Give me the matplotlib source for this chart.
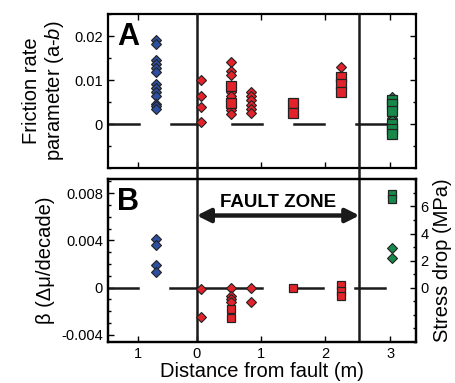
import matplotlib
matplotlib.use("Agg")
import matplotlib.pyplot as plt
from matplotlib.ticker import MultipleLocator, FixedLocator

plt.rcParams["font.family"] = ["Liberation Sans", "DejaVu Sans"]
plt.rcParams["mathtext.fontset"] = "custom"
plt.rcParams["mathtext.it"] = "Liberation Sans:italic"
plt.rcParams["axes.unicode_minus"] = False

# x positions of sample groups (m, left group is on the other side of the fault)
x_blue = -0.64
x_red = [0.06, 0.53, 0.85, 1.51, 2.25]
x_green = 3.04
fault_x = [0.0, 2.54]

# panel A: friction rate parameter (a-b)
ab_blue = [0.0191, 0.0182, 0.0145, 0.0137, 0.0128, 0.0119, 0.0092, 0.0083,
           0.0074, 0.0065, 0.0046, 0.0041, 0.0035]
ab_red_d = [[0.0100, 0.0065, 0.0038, 0.0005],
            [0.0141, 0.0121, 0.0112, 0.0073, 0.0063, 0.0033, 0.0022],
            [0.0074, 0.0065, 0.0056, 0.0044, 0.0035, 0.0026],
            [],
            [0.0129]]
ab_red_s = [[], [0.0086, 0.0048], [], [0.0048, 0.0026], [0.0107, 0.0091, 0.0073]]
ab_green_d = [0.0062, 0.0015, 0.0010]
ab_green_s = [0.0056, 0.0045, 0.0030, 0.0000, -0.0010, -0.0022]

# panel B: beta (delta mu / decade) and stress drop (MPa)
beta_blue = [0.0041, 0.0036, 0.0019, 0.0013]
beta_red_d = [[-0.0001, -0.0025],
              [0.0, -0.0007, -0.0010, -0.0012],
              [0.0, -0.0012],
              [],
              []]
beta_red_s = [[], [-0.0018, -0.0026], [], [0.0], [0.00025, -0.00025, -0.0007]]
stress_green_s = [6.9, 6.55]
stress_green_d = [2.9, 2.2]

zero_top = [(-1.4, -0.90), (-0.40, 0.0), (0.55, 1.02), (1.52, 1.99), (2.49, 2.95)]
zero_bot = [(-1.4, -0.92), (-0.42, 0.0), (0.0, 1.02), (1.51, 1.97), (2.47, 2.94)]

xticks = [-0.92, 0, 1, 2, 3.02]
xlabels = ["1", "0", "1", "2", "3"]

blue = "#2d4f9f"
red = "#e3232b"
green = "#17894a"
edge = "#222222"

fig = plt.figure(figsize=(4.56, 3.83), dpi=100)
axA = fig.add_axes([0.236, 0.561, 0.676, 0.402])
axB = fig.add_axes([0.236, 0.107, 0.676, 0.426])

xlim = (-1.39, 3.42)


def diamonds(ax, x, ys, color, ms=5.5):
    if len(ys):
        ax.plot([x] * len(ys), ys, "D", ms=ms, mfc=color, mec=edge, mew=0.8,
                zorder=4, clip_on=False)


def squares(ax, x, ys, color, ms=7):
    if len(ys):
        ax.plot([x] * len(ys), ys, "s", ms=ms, mfc=color, mec=edge, mew=0.9,
                zorder=4, clip_on=False)


for ax in (axA, axB):
    ax.set_xlim(*xlim)
    for s in ax.spines.values():
        s.set_linewidth(1.6)
    ax.set_xticks(xticks)
    ax.tick_params(direction="in", length=4, width=1, labelsize=10.5)
    ax.tick_params(which="minor", direction="in", length=2.5, width=1)

# panel A
axA.set_ylim(-0.01, 0.025)
axA.set_yticks([0, 0.01, 0.02])
axA.set_yticklabels(["0", "0.01", "0.02"])
axA.yaxis.set_minor_locator(MultipleLocator(0.005))
axA.tick_params(which="both", top=True, right=True, labelbottom=False)
for a, b in zero_top:
    axA.plot([a, b], [0, 0], color="#1a1a1a", lw=1.8, zorder=2)
diamonds(axA, x_blue, ab_blue, blue)
for x, d, s in zip(x_red, ab_red_d, ab_red_s):
    diamonds(axA, x, d, red)
    squares(axA, x, s, red)
diamonds(axA, x_green, ab_green_d, green)
squares(axA, x_green, ab_green_s, green)
for fx in fault_x:
    axA.axvline(fx, ymin=-0.08, ymax=1, color="#1a1a1a", lw=1.8, clip_on=False,
                zorder=3)
axA.set_ylabel("Friction rate\nparameter (a-$\\mathit{b}$)", fontsize=14.5,
               labelpad=6, linespacing=1.1)
axA.text(0.03, 0.95, "A", transform=axA.transAxes, fontsize=22,
         fontweight="bold", va="top", ha="left")

# panel B
axB.set_ylim(-0.0046, 0.0092)
axB.set_yticks([-0.004, 0, 0.004, 0.008])
axB.set_yticklabels(["-0.004", "0", "0.004", "0.008"])
axB.yaxis.set_minor_locator(MultipleLocator(0.001))
axB.tick_params(which="both", left=True, right=False)
axB.set_xticklabels(xlabels)
for a, b in zero_bot:
    axB.plot([a, b], [0, 0], color="#1a1a1a", lw=1.8, zorder=2)
diamonds(axB, x_blue, beta_blue, blue)
for x, d, s in zip(x_red, beta_red_d, beta_red_s):
    diamonds(axB, x, d, red)
    squares(axB, x, s, red, ms=6)
for fx in fault_x:
    axB.axvline(fx, color="#1a1a1a", lw=1.8, zorder=3)
axB.set_ylabel("\u03b2 (\u0394\u03bc/decade)", fontsize=14.5, labelpad=4)
axB.set_xlabel("Distance from fault (m)", fontsize=14.5, labelpad=1)
axB.text(0.03, 0.95, "B", transform=axB.transAxes, fontsize=22,
         fontweight="bold", va="top", ha="left")
axB.annotate("", xy=(fault_x[0], 0.0061), xytext=(fault_x[1], 0.0061),
             arrowprops=dict(arrowstyle="<|-|>", lw=3.2, color="#1a1a1a",
                             mutation_scale=20, shrinkA=0, shrinkB=0))
axB.text(sum(fault_x) / 2, 0.0072, "FAULT ZONE", fontsize=13.5,
         fontweight="bold", ha="center", va="center")

axS = axB.twinx()
mpa = 0.001144
axS.set_ylim(axB.get_ylim()[0] / mpa, axB.get_ylim()[1] / mpa)
axS.set_yticks([0, 2, 4, 6])
axS.yaxis.set_minor_locator(MultipleLocator(1))
axS.tick_params(direction="in", length=4, width=1, labelsize=10.5)
axS.tick_params(which="minor", direction="in", length=2.5, width=1)
for s in axS.spines.values():
    s.set_linewidth(1.6)
squares(axS, x_green, stress_green_s, green, ms=6)
diamonds(axS, x_green, stress_green_d, green)
axS.set_ylabel("Stress drop (MPa)", fontsize=14.5, labelpad=3)

fig.savefig("out.png", dpi=100)
